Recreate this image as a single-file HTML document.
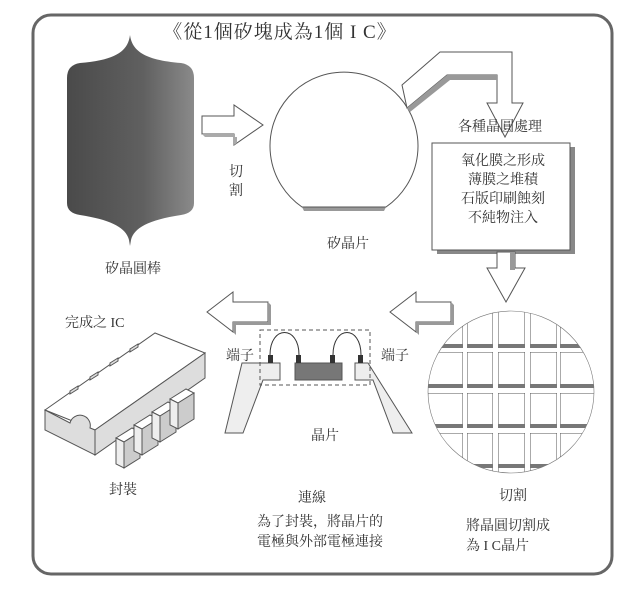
<!DOCTYPE html>
<html><head><meta charset="utf-8"><style>
html,body{margin:0;padding:0;background:#fff}
svg{display:block}
text{font-family:"Liberation Serif","Noto Serif CJK SC","Noto Sans CJK TC",serif;fill:#333}
</style></head><body>
<svg width="641" height="595" viewBox="0 0 641 595" xmlns="http://www.w3.org/2000/svg">
<defs>
<linearGradient id="ing" x1="0" x2="1" y1="0" y2="0">
<stop offset="0" stop-color="#4a4a4a"/><stop offset="0.6" stop-color="#606060"/><stop offset="1" stop-color="#8a8a8a"/>
</linearGradient>
<clipPath id="wc"><ellipse cx="511" cy="392" rx="83" ry="81"/></clipPath>
</defs>
<rect x="33" y="15" width="579" height="559" rx="18" fill="#fff" stroke="#666" stroke-width="3"/>
<text x="280" y="38" font-size="19" text-anchor="middle" letter-spacing="1">《從1個矽塊成為1個 I C》</text>

<!-- ingot -->
<path d="M130,35 C128,50 118,60 80,63 Q67,65 67,78 L67,203 Q67,213 80,215 C112,220 126,228 129,240 L130,246 L131,240 C134,228 148,220 181,215 Q194,213 194,203 L194,78 Q194,65 181,63 C143,60 132,50 130,35 Z" fill="url(#ing)"/>
<text x="133" y="273" font-size="14" text-anchor="middle">矽晶圓棒</text>

<!-- right arrow -->
<polygon points="202,116 234,116 234,105 263,125 234,145 234,134 202,134" fill="#fff" stroke="#555"/>
<polygon points="202,134 234,134 234,145 237,143 237,137 205,137" fill="#aaa"/>
<text x="236" y="176" font-size="14" text-anchor="middle">切</text>
<text x="236" y="195" font-size="14" text-anchor="middle">割</text>

<!-- wafer -->
<path d="M302,207 L386,207 L384,211 L304,211 Z" fill="#999"/>
<path d="M302,207 A74,74 0 1 1 386,207 Z" fill="#fff" stroke="#555"/>
<text x="348" y="248" font-size="14" text-anchor="middle">矽晶片</text>

<!-- bent arrow -->
<polygon points="402,85 440,52 512,52 512,103 523,103 505,137 487,103 497,103 497,75 447,75 407,108" fill="#fff" stroke="#555"/>
<polygon points="407,108 447,75 497,75 497,80 450,80 410,112" fill="#999"/>
<text x="500" y="131" font-size="14" text-anchor="middle">各種晶圓處理</text>

<!-- process box -->
<rect x="437" y="147" width="138" height="107" fill="#888"/>
<rect x="432" y="143" width="138" height="107" fill="#fff" stroke="#555"/>
<text x="503" y="165" font-size="14" text-anchor="middle">氧化膜之形成</text>
<text x="503" y="184" font-size="14" text-anchor="middle">薄膜之堆積</text>
<text x="503" y="203" font-size="14" text-anchor="middle">石版印刷蝕刻</text>
<text x="503" y="222" font-size="14" text-anchor="middle">不純物注入</text>

<!-- down arrow -->
<polygon points="497,252 515,252 515,268 525,268 506,302 487,268 497,268" fill="#fff" stroke="#555"/>
<rect x="510" y="252" width="5" height="18" fill="#999"/>

<!-- left arrows -->
<g id="la">
<polygon points="207,312 233,292 233,302 268,302 268,322 233,322 233,332" fill="#fff" stroke="#555"/>
<polygon points="268,302 271,305 271,325 236,325 236,335 233,332 233,322 268,322" fill="#999"/>
</g>
<use href="#la" transform="translate(183,0)"/>

<!-- diced wafer -->
<g clip-path="url(#wc)">
<rect x="420" y="300" width="190" height="190" fill="#fff"/>
<g stroke="#555" fill="#fff">
<rect x="428" y="305" width="35" height="43"/><rect x="467" y="305" width="26" height="43"/><rect x="498" y="305" width="27" height="43"/><rect x="530" y="305" width="27" height="43"/><rect x="560" y="305" width="40" height="43"/>
<rect x="428" y="352" width="35" height="36"/><rect x="467" y="352" width="26" height="36"/><rect x="498" y="352" width="27" height="36"/><rect x="530" y="352" width="27" height="36"/><rect x="560" y="352" width="40" height="36"/>
<rect x="428" y="393" width="35" height="35"/><rect x="467" y="393" width="26" height="35"/><rect x="498" y="393" width="27" height="35"/><rect x="530" y="393" width="27" height="35"/><rect x="560" y="393" width="40" height="35"/>
<rect x="428" y="433" width="35" height="45"/><rect x="467" y="433" width="26" height="45"/><rect x="498" y="433" width="27" height="45"/><rect x="530" y="433" width="27" height="45"/><rect x="560" y="433" width="40" height="45"/>
</g>
<g fill="#777">
<rect x="428" y="344" width="175" height="4"/><rect x="428" y="384" width="175" height="4"/><rect x="428" y="424" width="175" height="4"/><rect x="428" y="464" width="175" height="4"/>
</g>
<g fill="#fff"><rect x="463" y="300" width="4" height="180"/><rect x="493" y="300" width="5" height="180"/><rect x="525" y="300" width="5" height="180"/><rect x="557" y="300" width="3" height="180"/>
<rect x="420" y="348" width="190" height="4"/><rect x="420" y="388" width="190" height="5"/><rect x="420" y="428" width="190" height="5"/></g>
</g>
<ellipse cx="511" cy="392" rx="83" ry="81" fill="none" stroke="#777" stroke-width="0.6"/>
<text x="513" y="500" font-size="14" text-anchor="middle">切割</text>
<text x="466" y="530" font-size="14">將晶圓切割成</text>
<text x="466" y="550" font-size="14">為 I C晶片</text>

<!-- IC package -->
<text x="65" y="327" font-size="14">完成之 IC</text>
<g stroke="#555" stroke-width="1">
<polygon points="45,410 155,333 205,353 95,430" fill="#fff"/>
<polygon points="95,430 205,353 205,378 95,455" fill="#ddd"/>
<path d="M45,410 L70,423 A10,10 0 0 1 90,428 L95,430 L95,455 L45,430 Z" fill="#ddd"/>
<g fill="#ddd">
<polygon points="70,394 78,389 78,386 70,391"/>
<polygon points="90,380 98,375 98,372 90,377"/>
<polygon points="110,366 118,361 118,358 110,363"/>
<polygon points="130,352 138,347 138,344 130,349"/>
</g>
<g id="pin"><polygon points="116,438 132,428 140,432 124,442" fill="#fff"/><polygon points="124,442 140,432 140,458 124,468" fill="#ccc"/><polygon points="116,438 124,442 124,468 116,464" fill="#eee"/></g>
<use href="#pin" transform="translate(18,-13)"/>
<use href="#pin" transform="translate(36,-26)"/>
<use href="#pin" transform="translate(54,-39)"/>
</g>
<text x="123" y="494" font-size="14" text-anchor="middle">封裝</text>

<!-- connection -->
<g stroke="#555" fill="#eee">
<polygon points="242,363 280,363 280,380 263,380 243,433 225,433"/>
<polygon points="355,363 368,363 412,433 393,433 373,380 355,380"/>
<rect x="295" y="363" width="47" height="17" fill="#777"/>
</g>
<rect x="260" y="330" width="110" height="55" fill="none" stroke="#555" stroke-dasharray="4,3"/>
<g fill="#333"><rect x="268" y="355" width="5" height="8"/><rect x="296" y="355" width="5" height="8"/><rect x="330" y="355" width="5" height="8"/><rect x="358" y="355" width="5" height="8"/></g>
<path d="M270,355 C270,325 299,325 299,355 M333,355 C333,325 361,325 361,355" fill="none" stroke="#333"/>
<text x="240" y="360" font-size="14" text-anchor="middle">端子</text>
<text x="395" y="360" font-size="14" text-anchor="middle">端子</text>
<text x="325" y="440" font-size="14" text-anchor="middle">晶片</text>
<text x="312" y="502" font-size="14" text-anchor="middle">連線</text>
<text x="320" y="526" font-size="14" text-anchor="middle">為了封裝，將晶片的</text>
<text x="320" y="546" font-size="14" text-anchor="middle">電極與外部電極連接</text>
</svg>
</body></html>
